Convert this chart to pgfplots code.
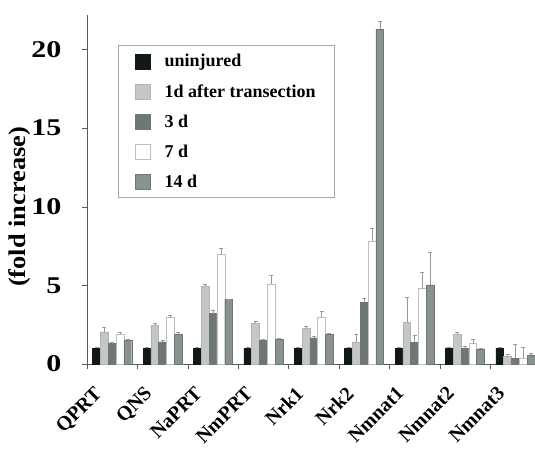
\documentclass[border=0pt]{standalone}
\usepackage{pgfplots}
\pgfplotsset{compat=1.18}
\usepackage{fontspec}
\setmainfont{Liberation Serif}
\definecolor{cUn}{HTML}{101A13}
\definecolor{cOne}{HTML}{C3C7C7}
\definecolor{cThree}{HTML}{6F7776}
\definecolor{cSeven}{HTML}{FFFFFF}
\definecolor{cFourteen}{HTML}{8A9290}
\newcommand{\yt}[1]{\scalebox{1.25}[1]{#1}}
\pgfplotsset{
  mybar/.style={draw=#1, line width=0.4pt,
    legend image code/.code={\draw[##1, line width=0.4pt] (0pt,-7.5pt) rectangle (15pt,7.5pt);},
    error bars/.cd, y dir=plus, y explicit,
    error bar style={draw=gray!80, line width=0.5pt},
    error mark options={draw=gray!80, mark size=2pt, rotate=90}},
}
\begin{document}
\begin{tikzpicture}
\begin{axis}[
  scale only axis, width=448pt, height=349pt,
  at={(0,0)}, anchor=south west,
  xmin=-0.5, xmax=8.39, ymin=0, ymax=22.2,
  axis lines=left, axis line style={-, draw=gray!70!black, line width=0.6pt},
  ybar=0pt, bar width=0.155,
  xtick={0,...,8},
  xticklabels={QPRT,QNS,NaPRT,NmPRT,Nrk1,Nrk2,Nmnat1,Nmnat2,Nmnat3},
  major x tick style={draw=none},
  minor xtick={-0.5,0.5,...,8.5},
  minor tick style={draw=gray!70!black, line width=0.5pt},
  tick align=outside, major tick length=5pt, minor tick length=5pt,
  ytick={0,5,10,15,20},
  yticklabels={\yt{0},\yt{5},\yt{10},\yt{15},\yt{20}},
  major y tick style={draw=gray!70!black, line width=0.5pt},
  /pgf/number format/assume math mode=true,
  yticklabel style={font=\fontsize{24}{24}\selectfont\bfseries, xshift=-17pt},
  xticklabel style={font=\fontsize{20}{20}\selectfont\bfseries, rotate=45, anchor=north east, inner sep=2pt, xshift=-23pt, yshift=4pt},
  ylabel={\scalebox{1.1}[1]{(fold increase)}},
  ylabel style={font=\fontsize{24}{24}\selectfont\bfseries, at={(axis description cs:-0.15,0.45)}, anchor=center},
  legend style={at={(0.069,0.914)}, anchor=north west, draw=gray!70, line width=0.8pt,
    font=\fontsize{18}{20}\selectfont\bfseries, row sep=12pt, inner xsep=17pt, inner ysep=7pt},
  legend cell align=left,
  clip=false,
]
\addplot[fill=cUn, mybar=cUn] coordinates {
 (0,1.0) +- (0,0.05) (1,1.0) +- (0,0.05) (2,1.0) +- (0,0.05) (3,1.0) +- (0,0.05) (4,1.0) +- (0,0.05)
 (5,1.0) +- (0,0.05) (6,1.0) +- (0,0.05) (7,1.02) +- (0,0.05) (8,1.0) +- (0,0.05)};
\addplot[fill=cOne, mybar=gray!60] coordinates {
 (0,2.05) +- (0,0.3) (1,2.45) +- (0,0.15) (2,4.95) +- (0,0.1) (3,2.6) +- (0,0.1) (4,2.27) +- (0,0.15)
 (5,1.38) +- (0,0.5) (6,2.66) +- (0,1.6) (7,1.9) +- (0,0.1) (8,0.5) +- (0,0.1)};
\addplot[fill=cThree, mybar=cThree] coordinates {
 (0,1.3) +- (0,0.1) (1,1.4) +- (0,0.1) (2,3.2) +- (0,0.2) (3,1.5) +- (0,0.1) (4,1.67) +- (0,0.1)
 (5,3.93) +- (0,0.25) (6,1.38) +- (0,0.47) (7,1.0) +- (0,0.15) (8,0.36) +- (0,0.9)};
\addplot[fill=cSeven, mybar=gray!50] coordinates {
 (0,1.9) +- (0,0.1) (1,2.95) +- (0,0.15) (2,7.0) +- (0,0.35) (3,5.1) +- (0,0.55) (4,2.95) +- (0,0.38)
 (5,7.83) +- (0,0.8) (6,4.8) +- (0,1.05) (7,1.3) +- (0,0.25) (8,0.4) +- (0,0.7)};
\addplot[fill=cFourteen, mybar=cFourteen!80!black] coordinates {
 (0,1.5) +- (0,0.1) (1,1.9) +- (0,0.1) (2,4.1) +- (0,0.05) (3,1.57) +- (0,0.05) (4,1.9) +- (0,0.05)
 (5,21.3) +- (0,0.5) (6,5.03) +- (0,2.1) (7,0.96) +- (0,0.05) (8,0.57) +- (0,0.1)};
\legend{\hspace{12pt}uninjured,\hspace{12pt}1d after transection\hspace{18pt},\hspace{12pt}3 d,\hspace{12pt}7 d,\hspace{12pt}14 d}
\end{axis}
\pgfresetboundingbox
\path[use as bounding box] (-87pt,-87pt) rectangle (448pt,364pt);
\end{tikzpicture}
\end{document}
